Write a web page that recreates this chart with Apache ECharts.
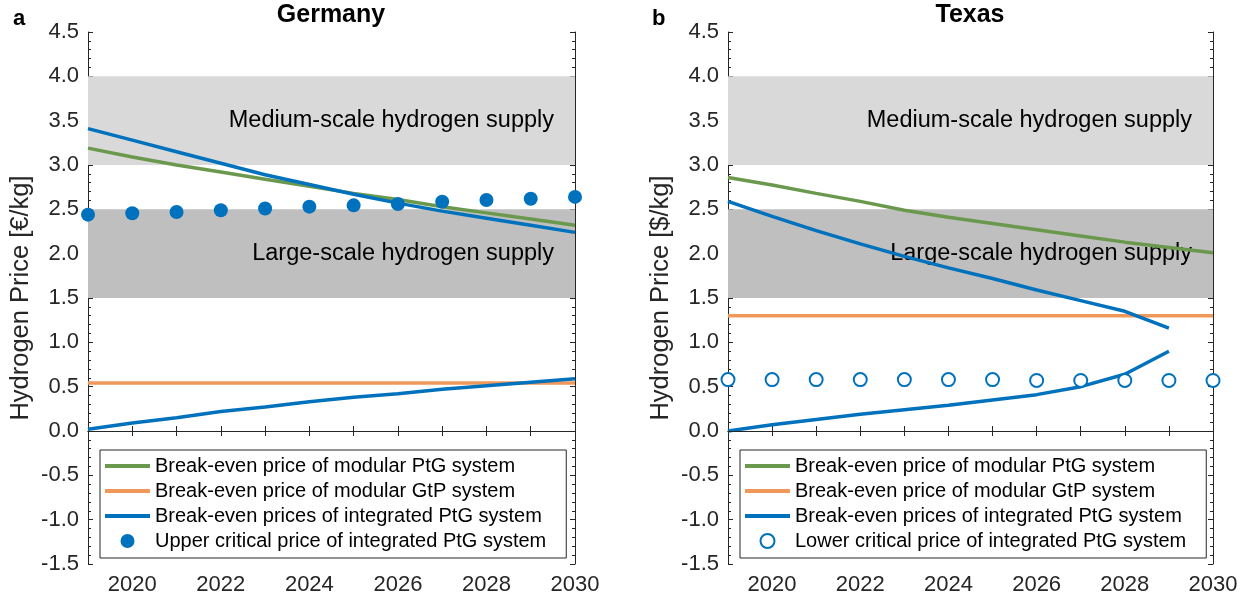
<!DOCTYPE html>
<html>
<head>
<meta charset="utf-8">
<title>Hydrogen break-even prices</title>
<script src="https://cdn.jsdelivr.net/npm/echarts@6/dist/echarts.min.js"></script>
<style>
  html, body { margin: 0; padding: 0; background: #fff; }
  #main { width: 1251px; height: 606px; }
</style>
</head>
<body>
<div id="main"></div>
<script>
// years on the x axis
const years = [2019, 2020, 2021, 2022, 2023, 2024, 2025, 2026, 2027, 2028, 2029, 2030];
const labelYears = [2020, 2022, 2024, 2026, 2028, 2030];

// reference bands (price ranges)
const mediumBand = [3.0, 4.0];
const largeBand = [1.5, 2.5];

// Germany [€/kg]
const deModularPtG = [3.19, 3.09, 3.00, 2.92, 2.84, 2.76, 2.68, 2.61, 2.53, 2.46, 2.39, 2.32];
const deModularGtP = [0.54, 0.54, 0.54, 0.54, 0.54, 0.54, 0.54, 0.54, 0.54, 0.54, 0.54, 0.54];
const deIntegratedHigh = [3.41, 3.28, 3.15, 3.02, 2.89, 2.78, 2.67, 2.57, 2.48, 2.40, 2.32, 2.24];
const deIntegratedLow = [0.02, 0.09, 0.15, 0.22, 0.27, 0.33, 0.38, 0.42, 0.47, 0.51, 0.55, 0.59];
const deUpperCritical = [2.44, 2.455, 2.47, 2.49, 2.51, 2.53, 2.545, 2.56, 2.585, 2.605, 2.62, 2.64];

// Texas [$/kg] (integrated system only up to 2029)
const txModularPtG = [2.86, 2.775, 2.68, 2.59, 2.49, 2.41, 2.34, 2.27, 2.20, 2.13, 2.07, 2.01];
const txModularGtP = [1.3, 1.3, 1.3, 1.3, 1.3, 1.3, 1.3, 1.3, 1.3, 1.3, 1.3, 1.3];
const txIntegratedHigh = [2.59, 2.42, 2.26, 2.11, 1.97, 1.84, 1.72, 1.59, 1.47, 1.35, 1.16];
const txIntegratedLow = [0.00, 0.07, 0.13, 0.19, 0.24, 0.29, 0.35, 0.41, 0.50, 0.64, 0.90];
const txLowerCritical = [0.58, 0.58, 0.58, 0.58, 0.58, 0.58, 0.58, 0.57, 0.57, 0.57, 0.57, 0.57];

const NAME_PTG = 'Break-even price of modular PtG system';
const NAME_GTP = 'Break-even price of modular GtP system';
const NAME_INT = 'Break-even prices of integrated PtG system';
const NAME_UPPER = 'Upper critical price of integrated PtG system';
const NAME_LOWER = 'Lower critical price of integrated PtG system';

const GREEN = '#6a994e';
const ORANGE = '#f0985a';
const BLUE = '#0072bd';
const AXIS = '#262626';
const FONT = "'Liberation Sans', Arial, Helvetica, sans-serif";
const LINE_ICON = 'path://M0,0H45V4H0Z';

const pairs = (vals) => vals.map((v, i) => [years[i], v]);

function line(name, vals, color, idx) {
    return {
        name: name, type: 'line', xAxisIndex: idx * 2, yAxisIndex: idx * 2,
        data: pairs(vals), symbol: 'none', smooth: false, z: 3,
        lineStyle: { color: color, width: 3.5 },
        itemStyle: { color: color }
    };
}

function bands(idx) {
    return {
        name: 'bands' + idx, type: 'line', xAxisIndex: idx * 2, yAxisIndex: idx * 2,
        data: [], silent: true, z: 1,
        markArea: {
            silent: true,
            label: {
                show: true, position: 'insideRight', distance: 21,
                color: '#000', fontSize: 23.5, fontFamily: FONT
            },
            data: [
                [{ yAxis: mediumBand[0], name: 'Medium-scale hydrogen supply', itemStyle: { color: '#d9d9d9' } },
                 { yAxis: mediumBand[1] }],
                [{ yAxis: largeBand[0], name: 'Large-scale hydrogen supply', itemStyle: { color: '#bfbfbf' } },
                 { yAxis: largeBand[1] }]
            ]
        },
        markLine: {
            silent: true, symbol: 'none', label: { show: false },
            lineStyle: { color: AXIS, width: 1, type: 'solid' },
            data: [{ yAxis: 0 }]
        }
    };
}

function xAxes(idx) {
    const base = {
        type: 'value', gridIndex: idx, min: 2019, max: 2030, interval: 1,
        axisLine: { show: true, lineStyle: { color: AXIS, width: 1 } },
        axisTick: { show: true, inside: true, length: 5, lineStyle: { color: AXIS } },
        splitLine: { show: false }
    };
    return [
        Object.assign({}, base, {
            position: 'bottom',
            axisLabel: {
                color: AXIS, fontSize: 22, fontFamily: FONT, margin: 10,
                formatter: (v) => labelYears.includes(v) ? String(v) : ''
            }
        }),
        Object.assign({}, base, { position: 'top', axisLabel: { show: false } })
    ];
}

function yAxes(idx, unit) {
    const base = {
        type: 'value', gridIndex: idx, min: -1.5, max: 4.5, interval: 0.5,
        axisLine: { show: true, lineStyle: { color: AXIS, width: 1 } },
        axisTick: { show: true, inside: true, length: 5, lineStyle: { color: AXIS } },
        minorTick: { show: true, splitNumber: 5, length: 3, lineStyle: { color: AXIS } },
        splitLine: { show: false }
    };
    return [
        Object.assign({}, base, {
            position: 'left',
            name: 'Hydrogen Price [' + unit + '/kg]',
            nameLocation: 'middle', nameGap: 54,
            nameTextStyle: { color: AXIS, fontSize: 25.5, fontFamily: FONT },
            axisLabel: { color: AXIS, fontSize: 22, fontFamily: FONT, margin: 9,
                         formatter: (v) => v.toFixed(1) }
        }),
        Object.assign({}, base, { position: 'right', axisLabel: { show: false } })
    ];
}

function legend(left, lastName, lastIcon) {
    return {
        orient: 'vertical', left: left, top: 450,
        backgroundColor: '#fff', borderColor: AXIS, borderWidth: 1,
        padding: [6, 20, 7, 5], itemGap: 5, itemWidth: 45, itemHeight: 14,
        selectedMode: false,
        textStyle: { color: '#000', fontSize: 20, fontFamily: FONT },
        data: [
            { name: NAME_PTG, icon: LINE_ICON },
            { name: NAME_GTP, icon: LINE_ICON },
            { name: NAME_INT, icon: LINE_ICON },
            { name: lastName, icon: lastIcon }
        ]
    };
}

const chart = echarts.init(document.getElementById('main'));

const option = {
    animation: false,
    backgroundColor: '#fff',
    textStyle: { fontFamily: FONT },
    title: [
        { text: 'Germany', left: 331, top: 3, textAlign: 'center', padding: 0,
          textStyle: { fontSize: 25, fontWeight: 'bold', color: '#000', fontFamily: FONT } },
        { text: 'Texas', left: 970, top: 3, textAlign: 'center', padding: 0,
          textStyle: { fontSize: 25, fontWeight: 'bold', color: '#000', fontFamily: FONT } },
        { text: 'a', left: 13, top: 8, padding: 0,
          textStyle: { fontSize: 22, fontWeight: 'bold', color: '#000', fontFamily: FONT } },
        { text: 'b', left: 652, top: 8, padding: 0,
          textStyle: { fontSize: 22, fontWeight: 'bold', color: '#000', fontFamily: FONT } }
    ],
    grid: [
        { left: 88, top: 32, width: 487, height: 532, outerBoundsMode: 'none' },
        { left: 728, top: 32, width: 485, height: 532, outerBoundsMode: 'none' }
    ],
    xAxis: xAxes(0).concat(xAxes(1)),
    yAxis: yAxes(0, '€').concat(yAxes(1, '$')),
    legend: [
        legend(100, NAME_UPPER, 'circle'),
        legend(740, NAME_LOWER, 'emptyCircle')
    ],
    series: [
        bands(0),
        line(NAME_PTG, deModularPtG, GREEN, 0),
        line(NAME_GTP, deModularGtP, ORANGE, 0),
        line(NAME_INT, deIntegratedHigh, BLUE, 0),
        line(NAME_INT, deIntegratedLow, BLUE, 0),
        {
            name: NAME_UPPER, type: 'scatter', xAxisIndex: 0, yAxisIndex: 0, z: 4,
            data: pairs(deUpperCritical), symbol: 'circle', symbolSize: 14,
            itemStyle: { color: BLUE, opacity: 1 }
        },
        bands(1),
        line(NAME_PTG, txModularPtG, GREEN, 1),
        line(NAME_GTP, txModularGtP, ORANGE, 1),
        line(NAME_INT, txIntegratedHigh, BLUE, 1),
        line(NAME_INT, txIntegratedLow, BLUE, 1),
        {
            name: NAME_LOWER, type: 'scatter', xAxisIndex: 2, yAxisIndex: 2, z: 4,
            data: pairs(txLowerCritical), symbol: 'emptyCircle', symbolSize: 13,
            itemStyle: { color: BLUE, borderColor: BLUE, borderWidth: 2.2, opacity: 1 }
        }
    ]
};

chart.setOption(option);
</script>
</body>
</html>
